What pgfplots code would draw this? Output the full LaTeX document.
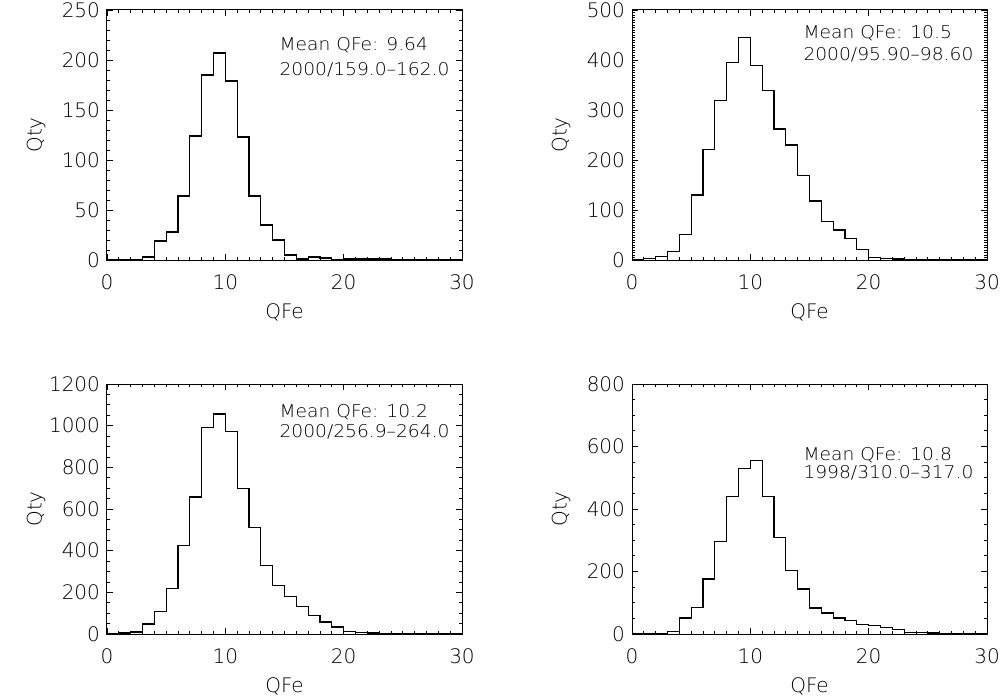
\documentclass[border=0pt]{standalone}
\usepackage{fontspec}
\setmainfont{DejaVu Sans ExtraLight}
\newfontfamily\meanfont[FakeStretch=1.06]{DejaVu Sans ExtraLight}
\usepackage{pgfplots}
\pgfplotsset{compat=1.18}

% IDL-like box plot, 1px of the reference = 0.5pt
\pgfplotsset{
  idlbox/.style={
    scale only axis, width=177.5pt, height=125pt,
    anchor=south west,
    xmin=0, xmax=30, xtick={0,10,20,30}, minor x tick num=9,
    tick align=inside, major tick length=3pt, minor tick length=1.5pt,
    axis line style={line width=0.5pt},
    every tick/.style={black, line width=0.4pt},
    scaled ticks=false,
    /pgf/number format/1000 sep={},
    /pgf/number format/assume math mode=true,
    xticklabel style={yshift=-4pt},
    xlabel=QFe, ylabel=Qty,
    xlabel style={at={(axis description cs:0.5,-0.208)}, anchor=center},
    ylabel style={at={(axis description cs:-0.2,0.5)}, anchor=center},
  },
  hist/.style={black, line width=0.6pt, const plot mark left, mark=none},
}
\tikzset{meantext/.style={anchor=west, inner sep=0pt, font=\meanfont\fontsize{8.8}{10}\selectfont}}

\pgfplotstableread{
x  a    b    c     d
0  0    0    2     1
1  0    3    5     1
2  0    7    10    2
3  3    17   48    9
4  19   51   109   51
5  28   130  218   85
6  64   221  425   176
7  124  319  658   296
8  185  395  991   440
9  207  445  1056  530
10 179  389  971   554
11 123  339  698   440
12 64   262  510   310
13 35   230  330   202
14 20   169  234   144
15 5    118  181   83
16 1    77   133   67
17 3    60   90    51
18 2    43   58    43
19 0    21   34    30
20 1    5    13    28
21 1    3    8     21
22 1    2    5     14
23 1    1    3     6
24 0    1    2     5
25 0    0    0     3
26 0    0    0     1
27 0    0    0     0
28 0    0    0     0
29 0    0    0     0
30 0    0    0     0
}\qfe

\begin{document}
\begin{tikzpicture}
\path[use as bounding box] (0,0) rectangle (500.5pt,349pt);

\begin{axis}[idlbox, at={(53.5pt,219pt)},
  ymin=0, ymax=250, ytick distance=50, minor y tick num=4]
  \addplot[hist] table[x=x, y=a] {\qfe};
  \node[meantext] at (rel axis cs:0.485,0.86) {Mean QFe: 9.64};
  \node[meantext] at (rel axis cs:0.485,0.76) {2000/159.0–162.0};
\end{axis}

\begin{axis}[idlbox, at={(316pt,219pt)},
  ymin=0, ymax=500, ytick distance=100, minor y tick num=19]
  \addplot[hist] table[x=x, y=b] {\qfe};
  \node[meantext] at (rel axis cs:0.482,0.908) {Mean QFe: 10.5};
  \node[meantext] at (rel axis cs:0.482,0.82) {2000/95.90–98.60};
\end{axis}

\begin{axis}[idlbox, at={(53.5pt,32pt)},
  ymin=0, ymax=1200, ytick distance=200, minor y tick num=3]
  \addplot[hist] table[x=x, y=c] {\qfe};
  \node[meantext] at (rel axis cs:0.485,0.888) {Mean QFe: 10.2};
  \node[meantext] at (rel axis cs:0.485,0.807) {2000/256.9–264.0};
\end{axis}

\begin{axis}[idlbox, at={(316pt,32pt)},
  ymin=0, ymax=800, ytick distance=200, minor y tick num=3]
  \addplot[hist] table[x=x, y=d] {\qfe};
  \node[meantext] at (rel axis cs:0.482,0.716) {Mean QFe: 10.8};
  \node[meantext] at (rel axis cs:0.482,0.644) {1998/310.0–317.0};
\end{axis}
\end{tikzpicture}
\end{document}
